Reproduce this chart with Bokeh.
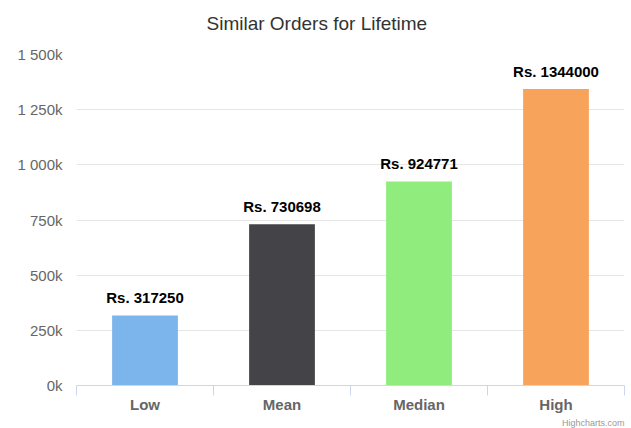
from bokeh.plotting import figure
from bokeh.models import Range1d, FixedTicker, ColumnDataSource, Title
from bokeh.embed import file_html
from bokeh.resources import INLINE
from bokeh.core.properties import value

categories = ["Low", "Mean", "Median", "High"]
values = [317250, 730698, 924771, 1344000]
colors = ["#7cb5ec", "#434348", "#90ed7d", "#f7a35c"]
y_ticks = [0, 250000, 500000, 750000, 1000000, 1250000, 1500000]
y_tick_labels = ["0k", "250k", "500k", "750k", "1 000k", "1 250k", "1 500k"]
title_text = "Similar Orders for Lifetime"
credit_text = "Highcharts.com"

FONT = "Liberation Sans"

xs = [i + 0.5 for i in range(len(categories))]
labels = ["Rs. " + str(v) for v in values]
src = ColumnDataSource(dict(x=xs, top=values, color=colors, label=labels))

p = figure(width=631, height=428, output_backend="svg", toolbar_location=None,
           x_range=Range1d(0, len(categories)), y_range=Range1d(0, 1500000),
           min_border_left=76, min_border_right=7, min_border_top=54, min_border_bottom=43)
p.outline_line_color = None
p.background_fill_color = "white"
p.border_fill_color = "white"

# trailing empty line lifts the title away from the plot area
p.title.text = title_text + "\n"
p.title.align = "left"
p.title.offset = 130
p.title.standoff = 0
p.title.vertical_align = "bottom"
p.title.text_font = FONT
p.title.text_font_size = "19px"
p.title.text_font_style = "normal"
p.title.text_color = "#333333"

p.vbar(x="x", top="top", bottom=0, width=0.48, color="color", source=src, line_color=None)
p.text(x="x", y="top", text="label", source=src, text_align="center", text_baseline="bottom",
       y_offset=-9, text_font=value(FONT), text_font_style="bold", text_font_size="15px",
       text_color="#000000")

# y axis
p.yaxis.ticker = FixedTicker(ticks=y_ticks)
p.yaxis.major_label_overrides = {t: l for t, l in zip(y_ticks, y_tick_labels)}
p.yaxis.axis_line_color = None
p.yaxis.major_tick_line_color = None
p.yaxis.minor_tick_line_color = None
p.yaxis.major_tick_in = 0
p.yaxis.major_tick_out = 0
p.yaxis.major_label_standoff = 14
p.yaxis.major_label_text_font = FONT
p.yaxis.major_label_text_font_size = "15px"
p.yaxis.major_label_text_color = "#666666"
p.ygrid.ticker = FixedTicker(ticks=y_ticks)
p.ygrid.grid_line_color = "#e6e6e6"
p.xgrid.grid_line_color = None

# x axis
p.xaxis.ticker = FixedTicker(ticks=xs, minor_ticks=list(range(len(categories) + 1)))
p.xaxis.major_label_overrides = {x: c for x, c in zip(xs, categories)}
p.xaxis.axis_line_color = "#ccd6eb"
p.xaxis.major_tick_line_color = None
p.xaxis.major_tick_in = 0
p.xaxis.major_tick_out = 0
p.xaxis.minor_tick_line_color = "#ccd6eb"
p.xaxis.minor_tick_in = 0
p.xaxis.minor_tick_out = 10
p.xaxis.major_label_standoff = 0
p.xaxis.major_label_text_font = FONT
p.xaxis.major_label_text_font_size = "15px"
p.xaxis.major_label_text_font_style = "bold"
p.xaxis.major_label_text_color = "#666666"

credit = Title(text=credit_text, align="right", text_font=FONT, text_font_size="9px",
               text_font_style="normal", text_color="#999999", standoff=0)
p.add_layout(credit, "below")

open("out.html", "w").write(file_html(p, INLINE))
